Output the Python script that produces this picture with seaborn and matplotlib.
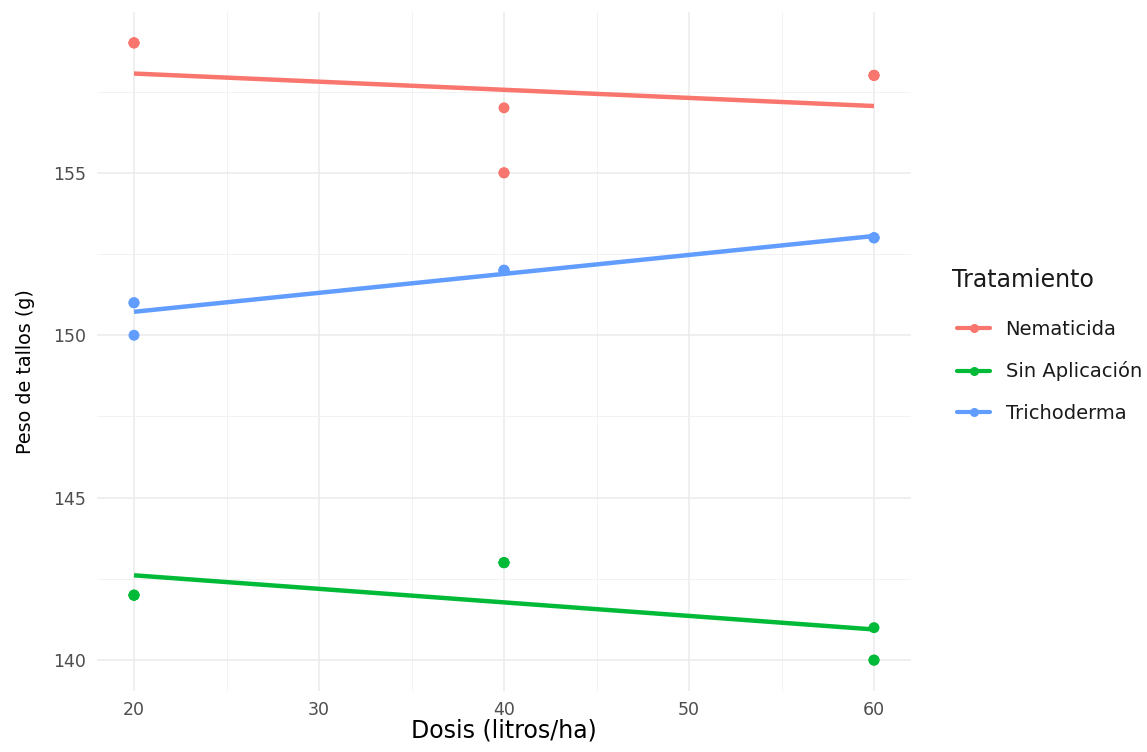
import numpy as np
import pandas as pd
import matplotlib
matplotlib.use("Agg")
import matplotlib.pyplot as plt
from matplotlib.lines import Line2D
from matplotlib.ticker import MultipleLocator
import seaborn as sns

# Dose levels (litros/ha), three plots per dose
dosis = [20, 20, 20, 40, 40, 40, 60, 60, 60]
nematicida = [159, 159, 159, 157, 155, 155, 158, 158, 158]
sin_aplicacion = [142, 142, 142, 143, 143, 143, 141, 140, 140]
trichoderma = [151, 151, 150, 152, 152, 152, 153, 153, 153]

tratamientos = ["Nematicida", "Sin Aplicación", "Trichoderma"]
colores = ["#F8766D", "#00BA38", "#619CFF"]

df = pd.DataFrame({
    "Dosis": dosis * 3,
    "Peso": nematicida + sin_aplicacion + trichoderma,
    "Tratamiento": [t for t in tratamientos for _ in dosis],
})

sns.set_theme(style="white")
plt.rcParams["font.family"] = ["DejaVu Sans"]

fig = plt.figure(figsize=(11.47, 7.52), dpi=100)
ax = fig.add_axes([97 / 1147, 1 - 691 / 752, (911 - 97) / 1147, (691 - 12) / 752])

palette = dict(zip(tratamientos, colores))

# linear fit per treatment
for t in tratamientos:
    sub = df[df["Tratamiento"] == t]
    sns.regplot(data=sub, x="Dosis", y="Peso", ax=ax, ci=None, scatter=False,
                color=palette[t], line_kws={"linewidth": 3.2, "solid_capstyle": "butt", "zorder": 3})

sns.scatterplot(data=df, x="Dosis", y="Peso", hue="Tratamiento", palette=palette,
                s=62, edgecolor="none", ax=ax, legend=False, zorder=4)

ax.set_xlim(18, 62)
ax.set_ylim(139.05, 159.95)
ax.xaxis.set_major_locator(MultipleLocator(10))
ax.xaxis.set_minor_locator(MultipleLocator(5))
ax.yaxis.set_major_locator(MultipleLocator(5))
ax.yaxis.set_minor_locator(MultipleLocator(2.5))
ax.grid(True, which="major", color="#EBEBEB", linewidth=1.1)
ax.grid(True, which="minor", color="#F2F2F2", linewidth=0.7)
ax.set_axisbelow(True)
for s in ax.spines.values():
    s.set_visible(False)
ax.tick_params(which="both", length=0, labelsize=12.5, labelcolor="#4D4D4D")
ax.tick_params(axis="y", pad=8)
ax.tick_params(axis="x", pad=7)

ax.set_xlabel("Dosis (litros/ha)", fontsize=17, color="black", labelpad=0)
ax.set_ylabel("Peso de tallos (g)", fontsize=13.8, color="black")
ax.yaxis.set_label_coords(-62 / 814, (691 - 372) / 679)

fig.text(952 / 1147, 1 - 280 / 752, "Tratamiento", fontsize=17, color="#1A1A1A",
         ha="left", va="center")

handles = [Line2D([0], [0], color=c, linewidth=3.0, marker="o", markersize=6.5,
                  markeredgewidth=0) for c in colores]
leg = fig.legend(handles, tratamientos,
                 loc="upper left", bbox_to_anchor=(957 / 1147, 1 - 320 / 752),
                 frameon=False, fontsize=14, labelcolor="#1A1A1A",
                 handlelength=1.7, labelspacing=1.15, handletextpad=0.8,
                 borderaxespad=0, borderpad=0)

fig.savefig("out.png", dpi=100)
